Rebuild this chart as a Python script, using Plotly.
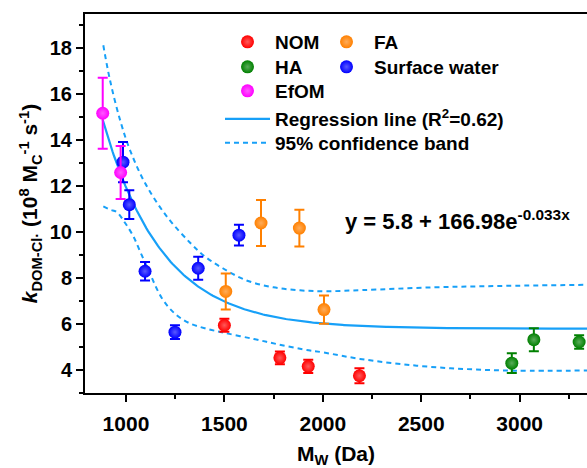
import numpy as np
import plotly.graph_objects as go

# ---- measured rate constants (Mw in Da, k in 1e8 Mc^-1 s^-1) ----
nom_mw = [1500, 1782, 1926, 2186]
nom_k = [5.95, 4.53, 4.16, 3.75]
nom_err = [0.28, 0.28, 0.29, 0.33]

fa_mw = [1507, 1686, 1881, 2006]
fa_k = [7.42, 10.40, 10.18, 6.63]
fa_err = [0.78, 1.00, 0.80, 0.62]

ha_mw = [2960, 3072, 3302]
ha_k = [4.30, 5.32, 5.22]
ha_err = [0.43, 0.50, 0.29]

sw_mw = [985, 1017, 1097, 1249, 1367, 1574]
sw_k = [13.05, 11.20, 8.30, 5.65, 8.43, 9.87]
sw_err = [0.88, 0.63, 0.40, 0.30, 0.50, 0.45]

efom_mw = [882, 973]
efom_k = [15.18, 12.60]
efom_err = [1.55, 1.15]

# ---- exponential fit y = a + b*exp(-c*x), x in units of 10 Da ----
fit_a = 5.8
fit_b = 166.98
fit_c = 0.033
fit_r2 = 0.62
fit_mw_start = 882
fit_mw_end = 3342

# ---- 95% confidence band ----
band_up_mw = [885, 919, 970, 1020, 1097, 1207, 1326, 1400, 1494, 1613, 1749,
              1884, 2020, 2200, 2560, 2900, 3342]
band_up_k = [18.14, 16.62, 14.89, 13.59, 12.14, 10.69, 9.54, 8.95, 8.42, 7.90,
             7.60, 7.47, 7.43, 7.48, 7.60, 7.66, 7.71]
band_lo_mw = [885, 920, 953, 995, 1037, 1075, 1113, 1181, 1249, 1320, 1400,
              1500, 1650, 1766, 1900, 2000, 2200, 2477, 2731, 2985, 3342]
band_lo_k = [11.13, 10.98, 10.88, 10.41, 9.83, 9.10, 8.38, 7.15, 6.45, 6.05,
             5.82, 5.62, 5.35, 5.13, 4.90, 4.77, 4.47, 4.19, 4.04, 3.97, 3.98]

# ---- axis ticks ----
x_ticks = [1000, 1500, 2000, 2500, 3000]
y_ticks = [4, 6, 8, 10, 12, 14, 16, 18]

FONT = "Liberation Sans, Arial, sans-serif"
LINE_BLUE = "#17A0F8"

W, H = 587, 468
ML, MR, MT, MB = 85, 0, 14, 75
PW, PH = W - ML - MR, H - MT - MB


def px_x(px):
    return (px - ML) / PW


def px_y(py):
    return 1 - (py - MT) / PH


def tint(hex_color, f):
    h = hex_color.lstrip("#")
    r, g, b = (int(h[i:i + 2], 16) for i in (0, 2, 4))
    r, g, b = (round(c + (255 - c) * f) for c in (r, g, b))
    return f"#{r:02x}{g:02x}{b:02x}"


fig = go.Figure()

fit_x = np.linspace(fit_mw_start, fit_mw_end, 300)
fit_y = fit_a + fit_b * np.exp(-fit_c * fit_x / 10)

fig.add_trace(go.Scatter(
    x=band_up_mw, y=band_up_k, mode="lines", line_shape="spline",
    line=dict(color=LINE_BLUE, width=2, dash="5px,4px"),
    name="95% confidence band", legend="legend7"))
fig.add_trace(go.Scatter(
    x=band_lo_mw, y=band_lo_k, mode="lines", line_shape="spline",
    line=dict(color=LINE_BLUE, width=2, dash="5px,4px"),
    showlegend=False, hoverinfo="skip"))
fig.add_trace(go.Scatter(
    x=fit_x, y=fit_y, mode="lines",
    line=dict(color=LINE_BLUE, width=2.2),
    name=f"Regression line (R<sup>2</sup>={fit_r2})", legend="legend6"))

series = [
    ("NOM", nom_mw, nom_k, nom_err, "#FF0000", "legend"),
    ("FA", fa_mw, fa_k, fa_err, "#FF8000", "legend2"),
    ("HA", ha_mw, ha_k, ha_err, "#008000", "legend3"),
    ("Surface water", sw_mw, sw_k, sw_err, "#0000FF", "legend4"),
    ("EfOM", efom_mw, efom_k, efom_err, "#FF00FF", "legend5"),
]
for name, xs, ys, es, col, lg in series:
    fig.add_trace(go.Scatter(
        x=xs, y=ys, mode="markers", name=name, legend=lg,
        marker=dict(size=13, color=col, line=dict(width=0),
                    gradient=dict(type="radial", color=tint(col, 0.35))),
        error_y=dict(type="data", array=es, visible=True, color=col,
                     thickness=2, width=5),
    ))

leg_font = dict(family=FONT, size=19, color="black", weight="bold")


def legend_at(px, py):
    return dict(x=px_x(px), y=px_y(py), xanchor="left", yanchor="middle",
                bgcolor="rgba(0,0,0,0)", borderwidth=0, font=leg_font,
                itemwidth=45, tracegroupgap=0)


# left edge of each legend entry (pixels) and row centres
col1, col2 = 220, 319
fig.update_layout(
    legend=legend_at(col1, 42),
    legend2=legend_at(col2, 42),
    legend3=legend_at(col1, 67),
    legend4=legend_at(col2, 67),
    legend5=legend_at(col1, 91),
    legend6=legend_at(col1, 119),
    legend7=legend_at(col1, 143),
)

fig.update_xaxes(
    range=[792, 3342], tickvals=x_ticks, ticks="outside", ticklen=7,
    tickwidth=2, tickcolor="black", linewidth=2, linecolor="black",
    mirror=True, showgrid=False, zeroline=False, ticklabelstandoff=4,
    tickfont=dict(family=FONT, size=21, color="black", weight="bold"),
    minor=dict(dtick=250, tick0=1000, ticks="outside", ticklen=4,
               tickwidth=2, tickcolor="black", showgrid=False),
    title=dict(text="<b>M<sub>W</sub> (Da)</b>",
               font=dict(family=FONT, size=21, color="black"), standoff=14),
)
fig.update_yaxes(
    range=[3, 19.5], tickvals=y_ticks, ticks="outside", ticklen=7,
    tickwidth=2, tickcolor="black", linewidth=2, linecolor="black",
    showgrid=False, zeroline=False,
    tickfont=dict(family=FONT, size=20, color="black", weight="bold"),
    minor=dict(dtick=1, tick0=3, ticks="outside", ticklen=4,
               tickwidth=2, tickcolor="black", showgrid=False),
    title=dict(text="<b><i>k</i><sub>DOM-Cl·</sub> (10<sup>8</sup> M<sub>C</sub>"
                    "<sup>-1</sup> s<sup>-1</sup>)</b>",
               font=dict(family=FONT, size=21, color="black"), standoff=6),
)

fig.add_annotation(
    x=2103, y=10.55, xref="x", yref="y", xanchor="left", yanchor="middle",
    showarrow=False,
    text=f"<b>y = {fit_a} + {fit_b}e<sup>-{fit_c}x</sup></b>",
    font=dict(family=FONT, size=22, color="black"),
)

fig.update_layout(
    width=W, height=H, margin=dict(l=ML, r=MR, t=MT, b=MB, autoexpand=False),
    paper_bgcolor="white", plot_bgcolor="white", showlegend=True,
)

fig.write_html("out.html")
